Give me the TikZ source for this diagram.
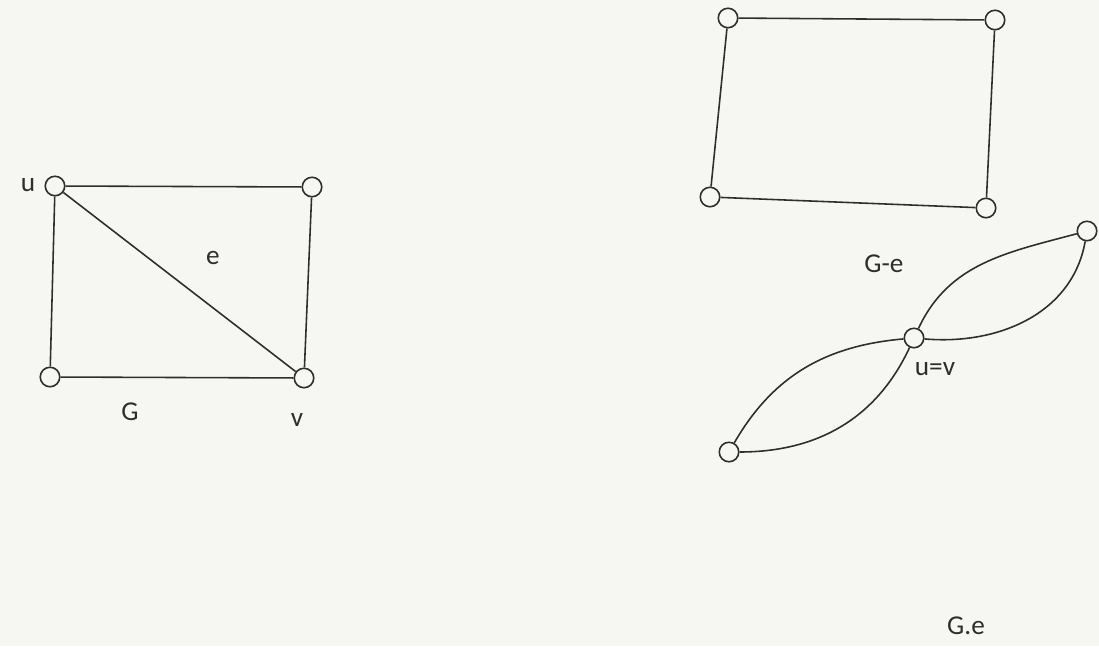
\documentclass[tikz,border=0pt]{standalone}
\usepackage{fontspec}
\setmainfont{Carlito}
\usetikzlibrary{positioning, backgrounds}
\definecolor{paper}{HTML}{F6F6F2}
\definecolor{ink}{HTML}{2E2E2E}
\tikzset{
  font=\fontsize{15.5}{18}\selectfont,
  vtx/.style={circle, draw=ink, line width=0.9pt, fill=paper,
              minimum size=0.39cm, inner sep=0pt},
  edg/.style={draw=ink, line width=0.9pt},
  lbl/.style={text=ink, inner sep=1pt},
}
\begin{document}
\begin{tikzpicture}[x=0.02cm, y=-0.02cm]
  \fill[paper] (0,0) rectangle (1099,646);
  \useasboundingbox (0,0) rectangle (1099,646);

  % ------------------------------------------------------------------- G
  \node[vtx] (u)  at (55,186) {};
  \node[vtx] (ur) at (312,187) {};
  \node[vtx] (ul) at (50,377) {};
  \node[vtx] (v)  at (304,378) {};

  \draw[edg] (u) -- (ur) -- (v) -- (ul) -- (u);
  \draw[edg] (u) -- (v);

  \node[lbl] at (28,185) {u};
  \node[lbl] at (213,258) {e};
  \node[lbl] at (130,412) {G};
  \node[lbl] at (297,420) {v};

  % ----------------------------------------------------------------- G-e
  \node[vtx] (a1) at (728,18) {};
  \node[vtx] (a2) at (995,20) {};
  \node[vtx] (a3) at (710,197) {};
  \node[vtx] (a4) at (986,208) {};

  \draw[edg] (a1) -- (a2) -- (a4) -- (a3) -- (a1);

  \node[lbl] at (884,264) {G-e};

  % ----------------------------------------------------------------- G.e
  \node[vtx] (uv) at (914,338) {};
  \node[vtx] (b1) at (1087,231) {};
  \node[vtx] (b2) at (729,452) {};

  \draw[edg] (uv) to[out=65, in=195] (b1);
  \draw[edg] (uv) to[out=-5, in=-100] (b1);
  \draw[edg] (b2) to[out=60, in=185] (uv);
  \draw[edg] (b2) to[out=0, in=-115] (uv);

  \node[lbl] at (935,369) {u=v};
  \node[lbl] at (966,626) {G.e};
\end{tikzpicture}
\end{document}
